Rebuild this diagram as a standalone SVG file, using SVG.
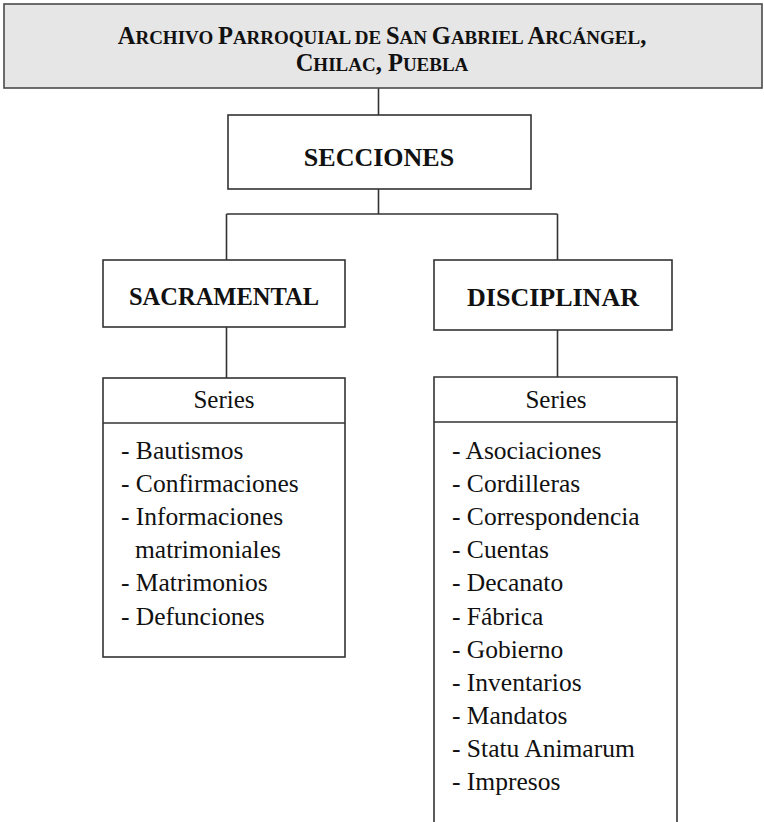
<svg xmlns="http://www.w3.org/2000/svg" width="764" height="822" viewBox="0 0 764 822">
<style>
.box{fill:#ffffff;stroke:#333333;stroke-width:1.6}
.top{fill:#e6e6e7;stroke:#4a4a4a;stroke-width:1.6}
.ln{fill:none;stroke:#333333;stroke-width:1.6}
.t{font-family:"Liberation Serif","Times New Roman",serif;fill:#111111}
.b{font-weight:bold}
.c{text-anchor:middle}
.li{font-size:25.5px}
.sc{font-size:19px}
</style>
<rect width="764" height="822" fill="#ffffff"/>
<g id="connectors">
<path class="ln" d="M378.5,88 V115 M378.5,189 V214 M226.5,214 H557.5 M226.5,214 V260 M557.5,214 V260 M226.5,327 V378 M557.5,330 V377"/>
</g>
<g id="archivo">
<rect class="top" x="4" y="4" width="758" height="84"/>
<text class="t b c" x="382" y="44" font-size="24.5">A<tspan class="sc">RCHIVO </tspan>P<tspan class="sc">ARROQUIAL DE </tspan>S<tspan class="sc">AN </tspan>G<tspan class="sc">ABRIEL </tspan>A<tspan class="sc">RCÁNGEL</tspan>,</text>
<text class="t b c" x="382" y="71" font-size="24.5">C<tspan class="sc">HILAC</tspan>, P<tspan class="sc">UEBLA</tspan></text>
</g>
<g id="secciones">
<rect class="box" x="228" y="115" width="303" height="74"/>
<text class="t b c" x="379" y="166" font-size="26">SECCIONES</text>
</g>
<g id="sacramental">
<rect class="box" x="103" y="260" width="242" height="67"/>
<text class="t b c" x="224" y="305" font-size="24.5">SACRAMENTAL</text>
</g>
<g id="disciplinar">
<rect class="box" x="434" y="260" width="238" height="70"/>
<text class="t b c" x="553" y="306" font-size="26">DISCIPLINAR</text>
</g>
<g id="series-sacramental">
<rect class="box" x="103" y="378" width="242" height="279"/>
<line class="ln" x1="103" y1="423" x2="345" y2="423"/>
<text class="t c" x="224" y="408" font-size="25">Series</text>
<text class="t li" x="121" y="459">- Bautismos</text>
<text class="t li" x="121" y="492">- Confirmaciones</text>
<text class="t li" x="121" y="525">- Informaciones</text>
<text class="t li" x="135" y="558">matrimoniales</text>
<text class="t li" x="121" y="591">- Matrimonios</text>
<text class="t li" x="121" y="625">- Defunciones</text>
</g>
<g id="series-disciplinar">
<path class="ln" d="M434,830 V377 H677 V830"/>
<line class="ln" x1="434" y1="422" x2="677" y2="422"/>
<text class="t c" x="556" y="408" font-size="25">Series</text>
<text class="t li" x="452" y="459">- Asociaciones</text>
<text class="t li" x="452" y="492">- Cordilleras</text>
<text class="t li" x="452" y="525">- Correspondencia</text>
<text class="t li" x="452" y="558">- Cuentas</text>
<text class="t li" x="452" y="591">- Decanato</text>
<text class="t li" x="452" y="625">- Fábrica</text>
<text class="t li" x="452" y="658">- Gobierno</text>
<text class="t li" x="452" y="691">- Inventarios</text>
<text class="t li" x="452" y="724">- Mandatos</text>
<text class="t li" x="452" y="757">- Statu Animarum</text>
<text class="t li" x="452" y="790">- Impresos</text>
</g>
</svg>
